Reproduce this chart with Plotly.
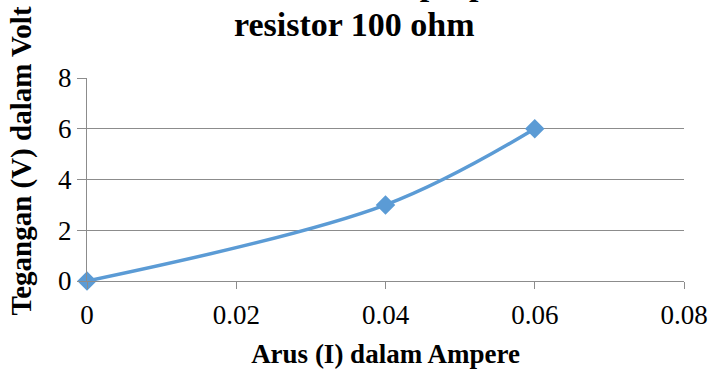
import plotly.graph_objects as go

arus = [0, 0.04, 0.06]
tegangan = [0, 3, 6]
x_ticks = [0, 0.02, 0.04, 0.06, 0.08]
x_labels = ["0", "0.02", "0.04", "0.06", "0.08"]
y_ticks = [0, 2, 4, 6, 8]

serif = "Liberation Serif, Times New Roman, serif"
grid = "#8c8c8c"

fig = go.Figure()
fig.add_trace(go.Scatter(
    x=arus, y=tegangan, mode="lines+markers",
    line=dict(color="#5B9BD5", width=3.5, shape="spline", smoothing=1.0),
    marker=dict(symbol="diamond", size=15, color="#5B9BD5"),
    showlegend=False, cliponaxis=False,
))

fig.update_layout(
    width=709, height=376,
    margin=dict(l=87, r=25, t=78, b=95),
    paper_bgcolor="white", plot_bgcolor="white",
    font=dict(family=serif, size=27, color="black"),
    xaxis=dict(
        range=[0, 0.08], tickvals=x_ticks, ticktext=x_labels,
        showgrid=False, showline=True, linecolor=grid, linewidth=1,
        ticks="outside", ticklen=7, tickcolor=grid, zeroline=False,
        automargin=False, ticklabelstandoff=3,
        title=dict(text="<b>Arus (I) dalam Ampere</b>", font=dict(size=27), standoff=14),
    ),
    yaxis=dict(
        range=[0, 8], tickvals=y_ticks,
        showgrid=True, gridcolor=grid, gridwidth=1,
        showline=True, linecolor=grid, linewidth=1,
        ticks="outside", ticklen=9, tickcolor=grid, zeroline=False,
        automargin=False,
    ),
)

fig.add_annotation(
    text="<b>Tegangan (V) dalam Volt</b>", textangle=-90,
    xref="paper", yref="paper", x=-0.109, y=0.593, xanchor="center", yanchor="middle",
    showarrow=False, font=dict(size=29),
)

# first title line sits mostly above the page edge, as in the source image
fig.add_annotation(
    text="<b>Grafik V terhadap I pada</b>",
    xref="paper", yref="paper", x=0.448, y=1.3645, xanchor="center", yanchor="bottom",
    showarrow=False, font=dict(size=34),
)
fig.add_annotation(
    text="<b>resistor 100 ohm</b>",
    xref="paper", yref="paper", x=0.448, y=1.1626, xanchor="center", yanchor="bottom",
    showarrow=False, font=dict(size=34),
)

fig.write_html("out.html", config={"displayModeBar": False},
               post_script="document.body.style.margin='0';")
